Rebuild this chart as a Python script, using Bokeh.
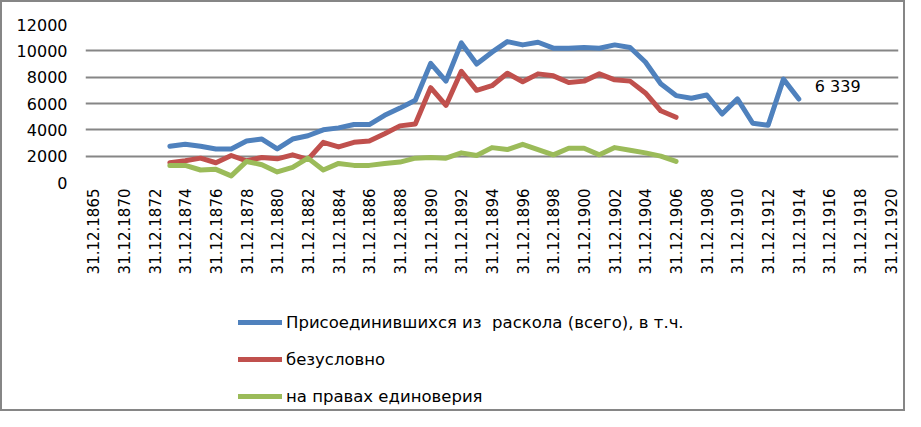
from math import pi
from bokeh.plotting import figure
from bokeh.layouts import column
from bokeh.models import Range1d, FixedTicker, Legend, LegendItem
from bokeh.core.properties import value
from bokeh.embed import file_html
from bokeh.resources import INLINE

# ---------------- data ----------------
categories = ["31.12.1865"] + [f"31.12.{y}" for y in range(1869, 1921)]
shown_labels = ["31.12.1865", "31.12.1870", "31.12.1872", "31.12.1874", "31.12.1876",
                "31.12.1878", "31.12.1880", "31.12.1882", "31.12.1884", "31.12.1886",
                "31.12.1888", "31.12.1890", "31.12.1892", "31.12.1894", "31.12.1896",
                "31.12.1898", "31.12.1900", "31.12.1902", "31.12.1904", "31.12.1906",
                "31.12.1908", "31.12.1910", "31.12.1912", "31.12.1914", "31.12.1916",
                "31.12.1918", "31.12.1920"]

years_total = list(range(1873, 1915))
total = [2750, 2900, 2750, 2550, 2550, 3150, 3300, 2550, 3300, 3550,
         4000, 4150, 4400, 4400, 5100, 5650, 6250, 9050, 7700, 10600,
         9000, 9900, 10700, 10450, 10650, 10200, 10200, 10250, 10200, 10450,
         10250, 9150, 7500, 6600, 6400, 6650, 5200, 6350, 4500, 4350,
         7850, 6339]

years_parts = list(range(1873, 1907))
unconditional = [1500, 1650, 1850, 1500, 2050, 1650, 1900, 1800, 2100, 1750,
                 3050, 2700, 3050, 3150, 3700, 4300, 4450, 7200, 5850, 8450,
                 7000, 7350, 8300, 7650, 8250, 8100, 7600, 7700, 8250, 7800,
                 7700, 6800, 5450, 4950]
edinoverie = [1300, 1300, 950, 1000, 500, 1600, 1350, 800, 1150, 1850,
              950, 1450, 1300, 1300, 1450, 1550, 1850, 1900, 1850, 2250,
              2050, 2650, 2500, 2900, 2500, 2100, 2600, 2600, 2100, 2650,
              2450, 2250, 2000, 1600]

series_names = ["Присоединившихся из  раскола (всего), в т.ч.",
                "безусловно",
                "на правах единоверия"]
y_ticks = [0, 2000, 4000, 6000, 8000, 10000, 12000]
last_label = "6 339"
colors = ["#4F81BD", "#C0504D", "#9BBB59"]

def cat_pos(years):
    return [categories.index(f"31.12.{y}") for y in years]

FONT = "DejaVu Sans"
BORDER = 2
W = 905 - 2 * BORDER
H = 411 - 2 * BORDER
LW = 5

# ---------------- chart ----------------
P_H = (24 - BORDER) + 158 + 108
p = figure(x_range=Range1d(-0.5, len(categories) - 0.5),
           y_range=Range1d(0, 12000),
           frame_width=813, frame_height=158,
           min_border_left=85 - BORDER, min_border_right=W - (85 - BORDER) - 813,
           min_border_top=24 - BORDER, min_border_bottom=108,
           output_backend="svg", toolbar_location=None,
           background_fill_color="white", border_fill_color="white")
p.outline_line_color = None

r1 = p.line(cat_pos(years_total), total, line_color=colors[0], line_width=LW,
            line_join="round", line_cap="round")
r2 = p.line(cat_pos(years_parts), unconditional, line_color=colors[1], line_width=LW,
            line_join="round", line_cap="round")
r3 = p.line(cat_pos(years_parts), edinoverie, line_color=colors[2], line_width=LW,
            line_join="round", line_cap="round")

p.text(x=cat_pos(years_total[-1:]), y=total[-1:], text=[last_label],
       x_offset=16, y_offset=-13, text_baseline="middle", text_align="left",
       text_font=value(FONT), text_font_size="16px", text_color="black")

p.yaxis.ticker = FixedTicker(ticks=y_ticks)
p.yaxis.axis_line_color = None
p.yaxis.major_tick_line_color = None
p.yaxis.minor_tick_line_color = None
p.yaxis.major_tick_out = 0
p.yaxis.minor_tick_out = 0
p.yaxis.major_label_standoff = 18
p.yaxis.major_label_text_font = FONT
p.yaxis.major_label_text_font_size = "16px"
p.yaxis.major_label_text_color = "black"

label_ticks = [categories.index(s) for s in shown_labels]
p.xaxis.ticker = FixedTicker(ticks=label_ticks)
p.xaxis.major_label_overrides = {t: s for t, s in zip(label_ticks, shown_labels)}
p.xaxis.axis_line_color = None
p.xaxis.major_tick_line_color = None
p.xaxis.minor_tick_line_color = None
p.xaxis.major_tick_out = 0
p.xaxis.minor_tick_out = 0
p.xaxis.major_label_orientation = pi / 2
p.xaxis.major_label_standoff = 6
p.xaxis.major_label_text_font = FONT
p.xaxis.major_label_text_font_size = "15px"
p.xaxis.major_label_text_color = "black"

p.xgrid.grid_line_color = None
p.ygrid.grid_line_color = "#868686"
p.ygrid.grid_line_width = 2

# ---------------- legend panel ----------------
LH = H - P_H
q = figure(x_range=Range1d(0, 1), y_range=Range1d(0, 1),
           frame_width=W, frame_height=LH,
           min_border=0, output_backend="svg", toolbar_location=None,
           background_fill_color="white", border_fill_color="white")
q.outline_line_color = None
q.axis.visible = False
q.grid.visible = False
# legend swatches: renderers whose only points lie outside the visible range
lr = [q.line([-5, -4], [-5, -4], line_color=c, line_width=LW, line_cap="round")
      for c in colors]

legend_bottom = 406 - (P_H + BORDER)      # legend bottom measured from the top of q
legend = Legend(items=[LegendItem(label=n, renderers=[r]) for n, r in zip(series_names, lr)],
                location=(238 - BORDER, LH - legend_bottom), orientation="vertical",
                glyph_width=44, glyph_height=20, label_height=20,
                label_standoff=4, spacing=17, padding=0, margin=0,
                border_line_color=None, background_fill_alpha=0,
                label_text_font=FONT, label_text_font_size="16.5px",
                label_text_color="black")
q.add_layout(legend, "center")

layout = column(p, q, spacing=0)
layout.styles = {"background-color": "white", "padding": f"{BORDER}px",
                 "box-shadow": f"inset 0 0 0 {BORDER}px #868686"}

open("out.html", "w").write(file_html(layout, INLINE))
